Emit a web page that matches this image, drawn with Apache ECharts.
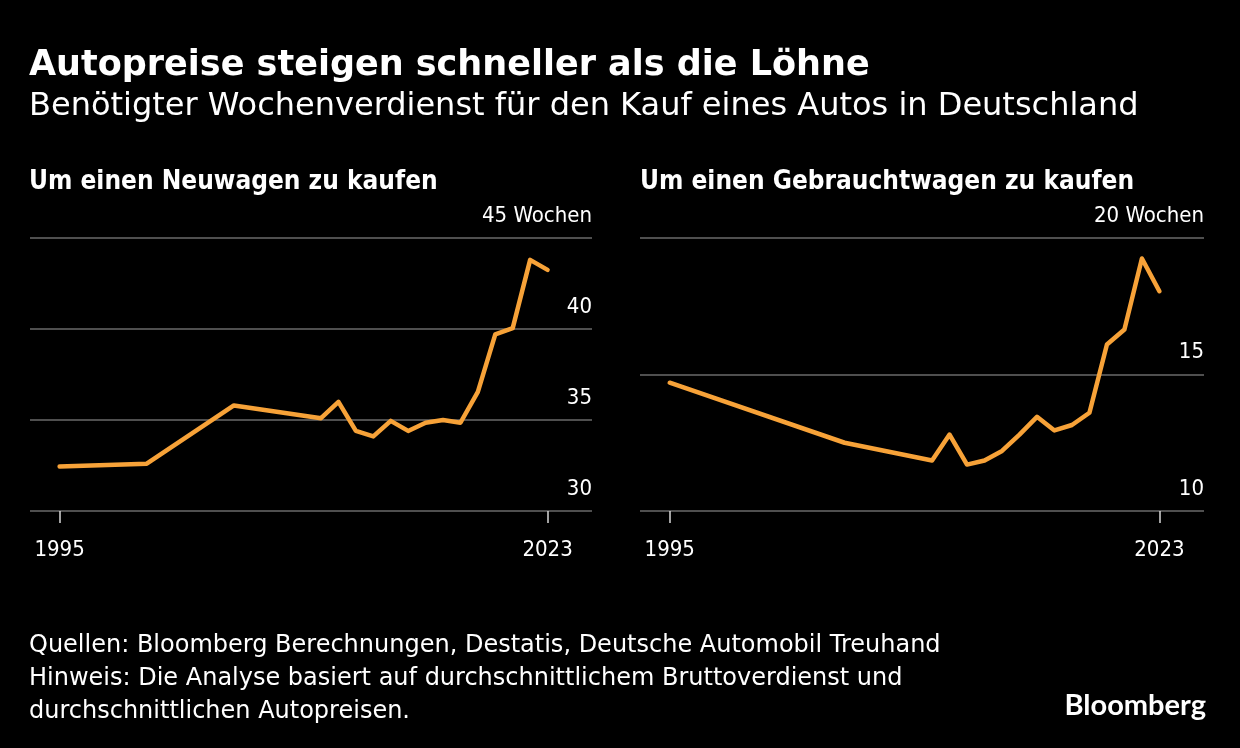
<!DOCTYPE html>
<html>
<head>
<meta charset="utf-8">
<script src="https://cdn.jsdelivr.net/npm/echarts@6/dist/echarts.min.js"></script>
<style>
html,body{margin:0;padding:0;background:#000;}
#c{width:1240px;height:748px;}
</style>
</head>
<body>
<div id="c"></div>
<script>
// ---- data ----
var newYears = [1995, 2000, 2005, 2010, 2011, 2012, 2013, 2014, 2015, 2016, 2017, 2018, 2019, 2020, 2021, 2022, 2023];
var newWeeks = [32.45, 32.6, 35.8, 35.1, 36.0, 34.4, 34.1, 34.95, 34.4, 34.85, 35.0, 34.85, 36.55, 39.7, 40.05, 43.8, 43.25];
var usedYears = [1995, 2005, 2010, 2011, 2012, 2013, 2014, 2015, 2016, 2017, 2018, 2019, 2020, 2021, 2022, 2023];
var usedWeeks = [14.7, 12.5, 11.85, 12.8, 11.7, 11.85, 12.2, 12.8, 13.45, 12.95, 13.15, 13.6, 16.1, 16.65, 19.25, 18.05];
var xTickYears = [1995, 2023];
var unitLabel = 'Wochen';

var COND = '"DejaVu Sans Condensed", "Liberation Sans Narrow", "DejaVu Sans", sans-serif';
var WIDE = '"DejaVu Sans", Verdana, sans-serif';
var ORANGE = '#F7A238';
var GRID = '#6a6a6a';

function pairs(xs, ys) { return xs.map(function (x, i) { return [x, ys[i]]; }); }

function xAxisFor(idx) {
  return {
    type: 'value', gridIndex: idx, min: 1993.3, max: 2025.55,
    axisLine: { show: false },
    splitLine: { show: false },
    axisTick: { show: true, customValues: xTickYears, length: 12, lineStyle: { color: '#d8d8d8', width: 1.5 } },
    axisLabel: { customValues: xTickYears, color: '#fff', fontSize: 22, fontFamily: COND, margin: 28,
      formatter: function (v) { return String(v); } }
  };
}
function yAxisFor(idx, min, max) {
  return {
    type: 'value', gridIndex: idx, position: 'right', min: min, max: max, interval: 5,
    axisLine: { show: false }, axisTick: { show: false },
    splitLine: { show: true, lineStyle: { color: GRID, width: 1.5 } },
    axisLabel: {
      inside: true, margin: 0, color: '#fff', fontSize: 22, fontFamily: COND,
      verticalAlign: 'bottom', padding: [0, 0, 11, 0],
      showMinLabel: true, showMaxLabel: true,
      formatter: function (v) { return v === max ? v + ' ' + unitLabel : String(v); }
    }
  };
}

var chart = echarts.init(document.getElementById('c'), null, { renderer: 'canvas' });
chart.setOption({
  backgroundColor: '#000',
  animation: false,
  title: [
    { text: 'Autopreise steigen schneller als die Löhne', left: 24, top: 43,
      textStyle: { color: '#fff', fontSize: 35, fontWeight: 'bold', fontFamily: WIDE } },
    { text: 'Benötigter Wochenverdienst für den Kauf eines Autos in Deutschland', left: 24, top: 86,
      textStyle: { color: '#fff', fontSize: 32, fontWeight: 'normal', fontFamily: WIDE } },
    { text: 'Um einen Neuwagen zu kaufen', left: 24, top: 164,
      textStyle: { color: '#fff', fontSize: 26, fontWeight: 'bold', fontFamily: COND } },
    { text: 'Um einen Gebrauchtwagen zu kaufen', left: 635, top: 164,
      textStyle: { color: '#fff', fontSize: 26, fontWeight: 'bold', fontFamily: COND } },
    { text: 'Quellen: Bloomberg Berechnungen, Destatis, Deutsche Automobil Treuhand\nHinweis: Die Analyse basiert auf durchschnittlichem Bruttoverdienst und\ndurchschnittlichen Autopreisen.',
      left: 24, top: 624,
      textStyle: { color: '#fff', fontSize: 24, fontWeight: 'normal', fontFamily: WIDE, lineHeight: 33 } },
    { text: 'Bloomberg', right: 29, top: 686,
      textStyle: { color: '#fff', fontSize: 29, fontWeight: 'bold', fontFamily: 'Lato, "Open Sans", sans-serif' } }
  ],
  grid: [
    { left: 30, right: 648, top: 238, bottom: 237 },
    { left: 640, right: 36, top: 238, bottom: 237 }
  ],
  xAxis: [xAxisFor(0), xAxisFor(1)],
  yAxis: [yAxisFor(0, 30, 45), yAxisFor(1, 10, 20)],
  series: [
    { type: 'line', xAxisIndex: 0, yAxisIndex: 0, data: pairs(newYears, newWeeks),
      showSymbol: false, lineStyle: { color: ORANGE, width: 4.5, join: 'round', cap: 'round' } },
    { type: 'line', xAxisIndex: 1, yAxisIndex: 1, data: pairs(usedYears, usedWeeks),
      showSymbol: false, lineStyle: { color: ORANGE, width: 4.5, join: 'round', cap: 'round' } }
  ]
});
</script>
</body>
</html>
